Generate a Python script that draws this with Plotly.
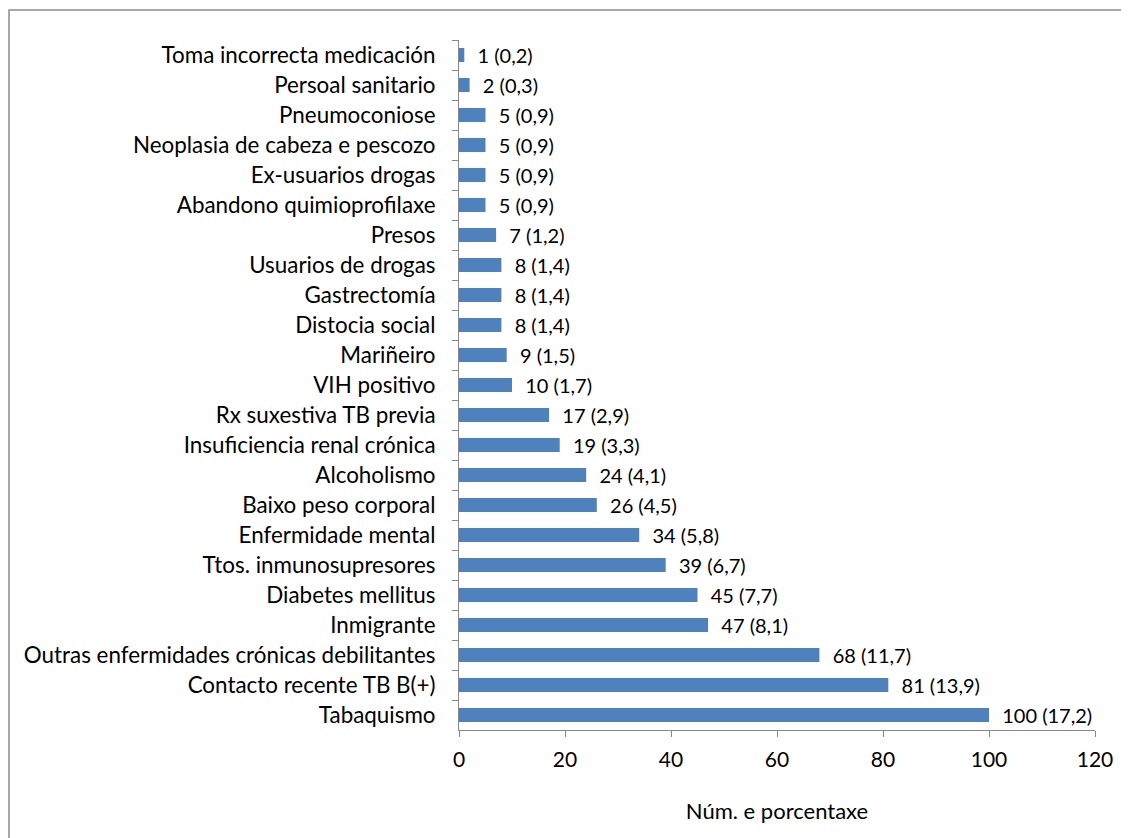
import plotly.graph_objects as go

categories = [
    "Toma incorrecta medicación",
    "Persoal sanitario",
    "Pneumoconiose",
    "Neoplasia de cabeza e pescozo",
    "Ex-usuarios drogas",
    "Abandono quimioprofilaxe",
    "Presos",
    "Usuarios de drogas",
    "Gastrectomía",
    "Distocia social",
    "Mariñeiro",
    "VIH positivo",
    "Rx suxestiva TB previa",
    "Insuficiencia renal crónica",
    "Alcoholismo",
    "Baixo peso corporal",
    "Enfermidade mental",
    "Ttos. inmunosupresores",
    "Diabetes mellitus",
    "Inmigrante",
    "Outras enfermidades crónicas debilitantes",
    "Contacto recente TB B(+)",
    "Tabaquismo",
]
counts = [1, 2, 5, 5, 5, 5, 7, 8, 8, 8, 9, 10, 17, 19, 24, 26, 34, 39, 45, 47, 68, 81, 100]
percents = ["0,2", "0,3", "0,9", "0,9", "0,9", "0,9", "1,2", "1,4", "1,4", "1,4", "1,5", "1,7",
            "2,9", "3,3", "4,1", "4,5", "5,8", "6,7", "7,7", "8,1", "11,7", "13,9", "17,2"]
x_ticks = [0, 20, 40, 60, 80, 100, 120]

labels = [f"\u00a0\u00a0{c} ({p})" for c, p in zip(counts, percents)]

# page body has an 8px margin, so the figure is a bit smaller than the window
W, H = 1121, 830
margin = {"l": 451, "r": 34, "t": 32, "b": 108}
font = "Lato, 'Open Sans', sans-serif"
fsize = 20

fig = go.Figure(
    go.Bar(
        y=categories,
        x=counts,
        orientation="h",
        marker={"color": "#4F81BD", "line": {"width": 0}},
        text=labels,
        textposition="outside",
        constraintext="none",
        textfont={"family": font, "size": fsize, "color": "#000000"},
        cliponaxis=False,
    )
)

# chart-area border, in paper coords relative to plot area
pw = W - margin["l"] - margin["r"]
ph = H - margin["t"] - margin["b"]
fig.add_shape(
    type="rect",
    xref="paper", yref="paper",
    x0=(1 - margin["l"]) / pw, x1=(W + 5 - margin["l"]) / pw,
    y0=-(H + 5 - margin["t"] - ph) / ph, y1=(ph + margin["t"] - 2) / ph,
    line={"color": "#8c8c8c", "width": 1.5},
    layer="below",
)

fig.update_layout(
    width=W,
    height=H,
    margin=margin,
    paper_bgcolor="white",
    plot_bgcolor="white",
    showlegend=False,
    bargap=0.53,
    font={"family": font, "size": fsize, "color": "#000000"},
    xaxis={
        "range": [0, 120],
        "tickvals": x_ticks,
        "showgrid": False,
        "zeroline": False,
        "showline": True,
        "linecolor": "#868686",
        "ticks": "outside",
        "ticklen": 6,
        "tickcolor": "#868686",
        "ticklabelstandoff": 5,
        "tickfont": {"size": 21},
        "title": {"text": "Núm. e porcentaxe", "font": {"size": 22}, "standoff": 33},
    },
    yaxis={
        "autorange": "reversed",
        "showgrid": False,
        "showline": True,
        "linecolor": "#868686",
        "ticks": "outside",
        "ticklen": 6,
        "tickcolor": "#868686",
        "tickson": "boundaries",
        "ticklabelstandoff": 18,
        "tickfont": {"size": 22.4},
    },
)

fig.write_html("out.html")
